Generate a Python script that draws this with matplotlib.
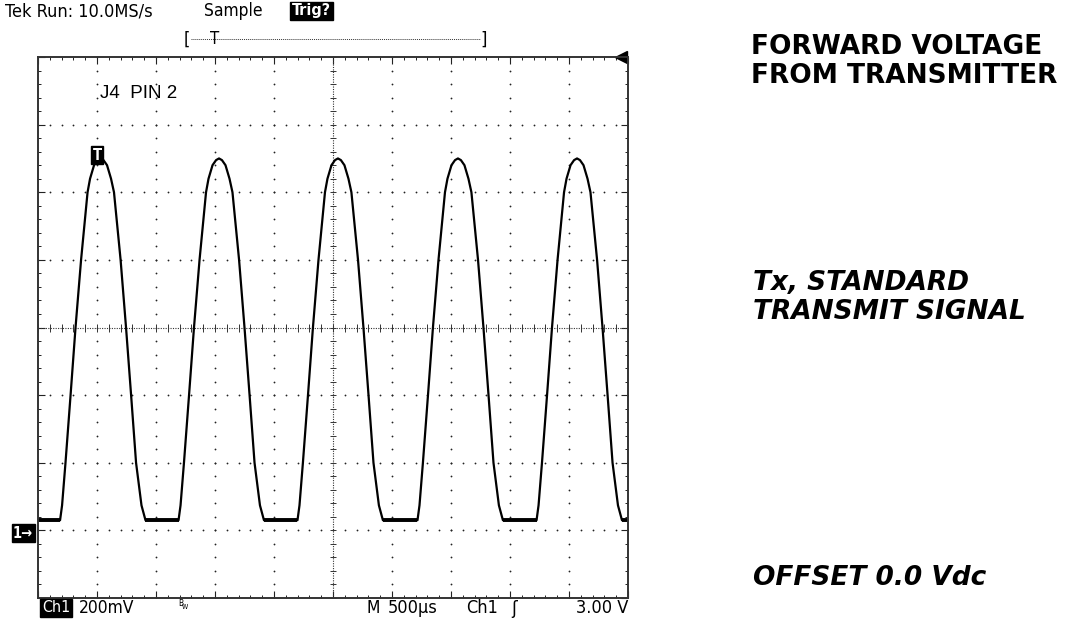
import numpy as np
import matplotlib
matplotlib.use('Agg')
import matplotlib.pyplot as plt

W, H = 1087, 623

# trace: time in ms (500 us/div), volts above ground (200 mV/div)
peak_times = [0.53, 1.534, 2.542, 3.559, 4.568]
pulse_dt = [-0.343, -0.326, -0.297, -0.254, -0.212, -0.165, -0.110, -0.089,
            -0.055, -0.025, 0.0, 0.025, 0.055, 0.089, 0.114, 0.170, 0.216,
            0.259, 0.301, 0.347, 0.381]
pulse_v = [0.03, 0.074, 0.20, 0.40, 0.60, 0.80, 1.00, 1.04, 1.08, 1.095, 1.10,
           1.095, 1.08, 1.04, 1.00, 0.80, 0.60, 0.40, 0.20, 0.074, 0.03]
flat_v = 0.03
screen_t = (0.0, 5.0)
screen_v = (-0.2, 1.4)

screen_font = ['Liberation Sans Narrow', 'DejaVu Sans']
label_font = ['Liberation Sans', 'DejaVu Sans']
side_font = ['DejaVu Sans']


def px(x, y):
    return x / W, 1 - y / H


fig = plt.figure(figsize=(W / 100, H / 100), dpi=100)
ax = fig.add_axes([38 / W, 1 - 598 / H, 590 / W, 541 / H])
ax.set_xlim(*screen_t)
ax.set_ylim(*screen_v)

# graticule
dot = dict(ls='none', marker='o', ms=1.3, mec='none', mfc='#222222')
vy = np.arange(screen_v[0], screen_v[1] + 1e-9, 0.04)
ht = np.arange(screen_t[0], screen_t[1] + 1e-9, 0.1)
for gx in [0.5, 1.0, 1.5, 2.0, 3.0, 3.5, 4.0, 4.5]:
    ax.plot(np.full_like(vy, gx), vy, **dot)
for gy in [0.0, 0.2, 0.4, 0.8, 1.0, 1.2]:
    ax.plot(ht, np.full_like(ht, gy), **dot)
ax.axvline(2.5, color='#333333', lw=0.8, ls=(0, (1, 1.2)))
ax.axhline(0.6, color='#333333', lw=0.8, ls=(0, (1, 1.2)))
ax.plot(np.full_like(vy, 2.5), vy, ls='none', marker='_', ms=5, mew=0.7, color='#333333')
ax.plot(ht, np.full_like(ht, 0.6), ls='none', marker='|', ms=6, mew=0.7, color='#333333')

ax.set_xticks(np.arange(0, 5.01, 0.5))
ax.set_xticks(ht, minor=True)
ax.set_yticks(np.arange(-0.2, 1.41, 0.2))
ax.set_yticks(vy, minor=True)
ax.tick_params(which='both', direction='in', top=True, right=True,
               labelbottom=False, labelleft=False, color='#222222')
ax.tick_params(which='major', length=5, width=0.8)
ax.tick_params(which='minor', length=2.5, width=0.7)
for s in ax.spines.values():
    s.set_linewidth(1.4)
    s.set_color('#333333')

# waveform
t = [screen_t[0]]
v = [flat_v]
for tp in peak_times:
    t += [tp + d for d in pulse_dt]
    v += pulse_v
t.append(screen_t[1])
v.append(flat_v)
t = np.array(t)
v = np.array(v)
ax.plot(t, v, color='black', lw=1.6, solid_joinstyle='round')
# the sampled baseline is noisy, so it reads as a thicker band
ax.plot(t, np.where(v <= flat_v + 1e-9, v, np.nan), color='black', lw=2.8,
        solid_capstyle='butt')

# trigger position marker on the right edge
ax.plot([0.988], [1.0], transform=ax.transAxes, marker='<', ms=8, color='black', clip_on=False)

# screen annotations
sf = dict(family=screen_font, stretch='condensed', va='center')
inv = dict(color='white', bbox=dict(boxstyle='square,pad=0.1', fc='black', ec='black'))
fig.text(*px(5, 11), 'Tek Run: 10.0MS/s', fontsize=13, **sf)
fig.text(*px(204, 11), 'Sample', fontsize=12.5, **sf)
fig.text(*px(292, 11), 'Trig?', fontsize=11.5, weight='bold', **sf, **inv)
fig.text(*px(184, 40), '[', fontsize=13, **sf)
fig.text(*px(480, 40), ']', fontsize=13, **sf)
fig.add_artist(plt.Line2D([191 / W, 480 / W], [1 - 39 / H] * 2,
                          color='#333333', lw=0.7, ls=(0, (1, 1))))
fig.text(*px(215, 39), 'T', fontsize=12, ha='center', **sf)

fig.text(*px(100, 93), 'J4  PIN 2', family=label_font, fontsize=13.5, va='center')
fig.text(*px(97, 155), 'T', fontsize=10.5, ha='center', weight='bold', **sf, **inv)
fig.text(*px(13, 533), '1→', fontsize=10.5, weight='bold', **sf, **inv)

fig.text(*px(42, 608), 'Ch1', fontsize=11.5, **sf, **inv)
fig.text(*px(79, 608), '200mV', fontsize=12.5, **sf)
fig.text(*px(178, 603), 'B', fontsize=6, **sf)
fig.text(*px(182, 607), 'W', fontsize=5, **sf)
fig.text(*px(367, 608), 'M', fontsize=12.5, **sf)
fig.text(*px(388, 608), '500µs', fontsize=13, **sf)
fig.text(*px(466, 608), 'Ch1', fontsize=13, **sf)
fig.text(*px(514, 609), 'ʃ', family=['DejaVu Sans'], fontsize=12, va='center', ha='center')
fig.text(*px(628, 608), '3.00 V', fontsize=13, ha='right', **sf)

# side labels
bold = dict(family=side_font, fontsize=19, weight='bold', va='center')
fig.text(*px(751, 47), 'FORWARD VOLTAGE', **bold)
fig.text(*px(751, 76), 'FROM TRANSMITTER', **bold)
fig.text(*px(753, 283), 'Tx, STANDARD', style='italic', **bold)
fig.text(*px(753, 312), 'TRANSMIT SIGNAL', style='italic', **bold)
fig.text(*px(753, 578), 'OFFSET 0.0 Vdc', style='italic', **bold)

fig.savefig('out.png', dpi=100)
